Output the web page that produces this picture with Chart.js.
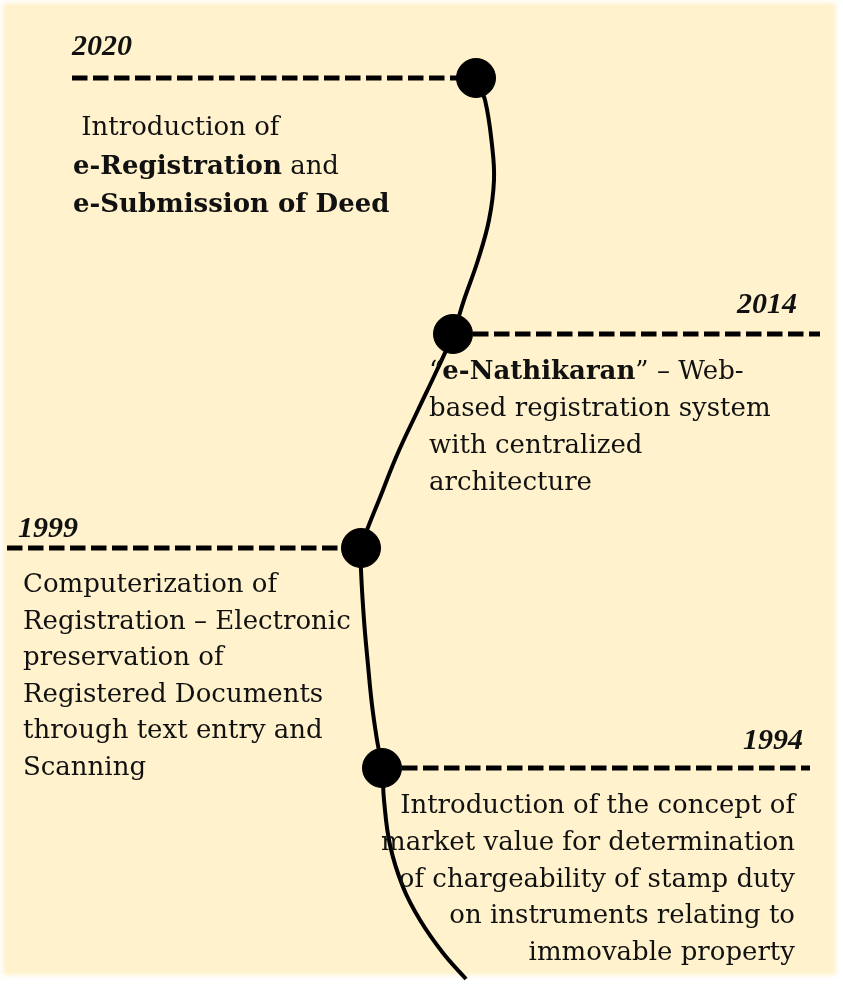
<!DOCTYPE html>
<html>
  <head>
    <meta charset="utf-8">
    <script src="https://cdn.jsdelivr.net/npm/chart.js@4.4.1/dist/chart.umd.min.js"></script>
    <style>
      body{
        margin: 0;
        background: #ffffff;
      }
      canvas{ display: block; }
    </style>
  </head>
  <body>
    <canvas id="timeline" width="843" height="985"></canvas>
    <script>
      // milestones, newest first (same order as on the picture)
      var years = ['2020', '2014', '1999', '1994'];
      var milestoneX = [476, 453, 361, 382];
      var milestoneY = [78, 334, 548, 768];
      // the dashed leader of each milestone runs from .. to
      var leaderFrom = [72, 473, 7, 402];
      var leaderTo = [458, 820, 342, 810];
      // the winding time line
      var pathX = [476, 485, 492, 494, 489, 478, 464, 453, 437, 418, 397, 379, 367, 361, 361, 364, 368, 372, 377, 382, 384, 390, 403, 420, 443, 466];
      var pathY = [78, 100, 145, 180, 220, 260, 300, 334, 370, 410, 455, 500, 530, 548, 570, 620, 665, 705, 740, 768, 800, 845, 887, 920, 953, 979];
      // texts, **..** is bold
      var descriptions = [
        [' Introduction of', '**e-Registration** and', '**e-Submission of Deed**'],
        ['“**e-Nathikaran**” – Web-', 'based registration system', 'with centralized', 'architecture'],
        ['Computerization of', 'Registration – Electronic', 'preservation of', 'Registered Documents', 'through text entry and', 'Scanning'],
        ['Introduction of the concept of', 'market value for determination', 'of chargeability of stamp duty', 'on instruments relating to', 'immovable property']
      ];

      // where the texts sit
      var yearPlace = [
        {x: 72, y: 55, align: 'left'},
        {x: 797, y: 313, align: 'right'},
        {x: 18, y: 537, align: 'left'},
        {x: 803, y: 749, align: 'right'}
      ];
      var textPlace = [
        {x: 73, y: 135, step: 38.5, align: 'left'},
        {x: 429, y: 379, step: 37, align: 'left'},
        {x: 23, y: 592, step: 36.5, align: 'left'},
        {x: 795, y: 813, step: 36.8, align: 'right'}
      ];
      var bodyFont = '26px "DejaVu Serif"';
      var bodyBold = 'bold 26px "DejaVu Serif"';
      var yearFont = 'italic bold 30px "Liberation Serif"';

      function toPoints(xs, ys){
        var out = [];
        for (var i = 0; i < xs.length; i++){
          out.push({x: xs[i], y: ys[i]});
        }
        return out;
      }

      var datasets = [];
      datasets.push({
        type: 'scatter',
        data: toPoints(milestoneX, milestoneY),
        backgroundColor: '#000',
        borderColor: '#000',
        pointRadius: 19.5,
        pointHoverRadius: 19.5
      });
      for (var i = 0; i < years.length; i++){
        datasets.push({
          type: 'line',
          data: [{x: leaderFrom[i], y: milestoneY[i]}, {x: leaderTo[i], y: milestoneY[i]}],
          borderColor: '#000',
          borderWidth: 5,
          borderDash: [15.5, 5.5],
          borderCapStyle: 'butt',
          pointRadius: 0
        });
      }
      datasets.push({
        type: 'line',
        data: toPoints(pathX, pathY),
        borderColor: '#000',
        borderWidth: 4,
        tension: 0.4,
        pointRadius: 0
      });

      function drawRich(ctx, line, x, y, align){
        var parts = line.split('**');
        var total = 0;
        for (var p = 0; p < parts.length; p++){
          ctx.font = (p % 2) ? bodyBold : bodyFont;
          total += ctx.measureText(parts[p]).width;
        }
        var cx = align === 'right' ? x - total : x;
        ctx.textAlign = 'left';
        for (var p = 0; p < parts.length; p++){
          ctx.font = (p % 2) ? bodyBold : bodyFont;
          ctx.fillText(parts[p], cx, y);
          cx += ctx.measureText(parts[p]).width;
        }
      }

      var paper = {
        id: 'paper',
        beforeDraw: function(chart){
          var ctx = chart.ctx;
          ctx.save();
          ctx.fillStyle = '#ffffff';
          ctx.fillRect(0, 0, chart.width, chart.height);
          ctx.filter = 'blur(2px)';
          ctx.fillStyle = '#fff2cc';
          ctx.fillRect(3, 3, 833, 972);
          ctx.restore();
        }
      };

      var labels = {
        id: 'labels',
        afterDatasetsDraw: function(chart){
          var ctx = chart.ctx;
          var sx = chart.scales.x, sy = chart.scales.y;
          ctx.save();
          ctx.fillStyle = '#111';
          ctx.textBaseline = 'alphabetic';
          for (var i = 0; i < years.length; i++){
            ctx.font = yearFont;
            ctx.textAlign = yearPlace[i].align;
            ctx.fillText(years[i], sx.getPixelForValue(yearPlace[i].x), sy.getPixelForValue(yearPlace[i].y));
            var t = textPlace[i];
            for (var k = 0; k < descriptions[i].length; k++){
              drawRich(ctx, descriptions[i][k], sx.getPixelForValue(t.x), sy.getPixelForValue(t.y + k * t.step), t.align);
            }
          }
          ctx.restore();
        }
      };

      var chartConfig = {
        type: 'scatter',
        data: {datasets: datasets},
        options: {
          responsive: false,
          animation: false,
          layout: {padding: 0, autoPadding: false},
          plugins: {
            legend: {display: false},
            tooltip: {enabled: false}
          },
          scales: {
            x: {type: 'linear', min: 0, max: 843, display: false},
            y: {type: 'linear', min: 0, max: 985, reverse: true, display: false}
          }
        },
        plugins: [paper, labels]
      };
      var timeline = new Chart(document.getElementById('timeline'), chartConfig);
    </script>
  </body>
</html>
